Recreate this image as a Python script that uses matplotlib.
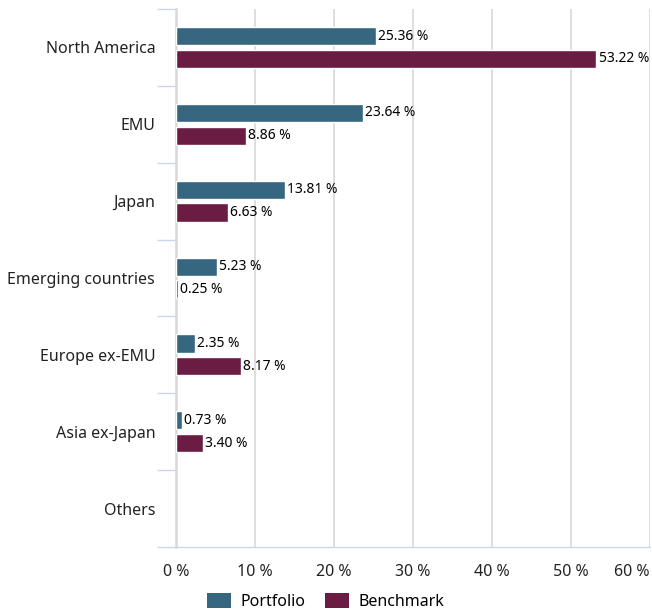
import numpy as np
import matplotlib
matplotlib.use("Agg")
import matplotlib.pyplot as plt
from matplotlib.patches import Patch

plt.rcParams['font.family'] = ['Noto Sans', 'DejaVu Sans']

# Regional allocation, in percent
regions = ['North America', 'EMU', 'Japan', 'Emerging countries',
           'Europe ex-EMU', 'Asia ex-Japan', 'Others']
portfolio = [25.36, 23.64, 13.81, 5.23, 2.35, 0.73, np.nan]
benchmark = [53.22, 8.86, 6.63, 0.25, 8.17, 3.40, np.nan]
x_ticks = [0, 10, 20, 30, 40, 50, 60]
x_labels = ['0 %', '10 %', '20 %', '30 %', '40 %', '50 %', '60 %']

col_port = '#376780'
col_bench = '#6b1c42'
grid_col = '#d8d8d8'
axis_col = '#ccd6eb'

fig = plt.figure(figsize=(6.52, 6.11), dpi=100)
ax = fig.add_axes([176 / 652, 64 / 611, 474 / 652, 538 / 611])

y = np.arange(len(regions))
h = 0.235
off = 0.148

ax.barh(y - off, portfolio, height=h, color=col_port, edgecolor='white', linewidth=1.0, zorder=3)
ax.barh(y + off, benchmark, height=h, color=col_bench, edgecolor='white', linewidth=1.0, zorder=3)

# value labels
for yy, v in zip(y - off, portfolio):
    if not np.isnan(v):
        ax.annotate(f'{v:.2f} %', (v, yy), xytext=(1.5, 0), textcoords='offset points',
                    va='center', ha='left', fontsize=10, color='black', zorder=4)
for yy, v in zip(y + off, benchmark):
    if not np.isnan(v):
        ax.annotate(f'{v:.2f} %', (v, yy), xytext=(1.5, 0), textcoords='offset points',
                    va='center', ha='left', fontsize=10, color='black', zorder=4)

ax.set_xlim(0, 60)
ax.set_ylim(len(regions) - 0.5, -0.5)

# grid and axes styling
ax.set_xticks(x_ticks)
ax.set_xticklabels(x_labels, fontsize=11.5, color='#222222')
ax.tick_params(axis='x', length=0, pad=12)
ax.get_xticklabels()[-1].set_ha('right')
for t in x_ticks[1:]:
    ax.axvline(t, color=grid_col, linewidth=1.2, zorder=1)

ax.set_yticks(np.arange(len(regions) + 1) - 0.5)
ax.set_yticklabels([])
ax.tick_params(axis='y', which='major', length=14, width=1, color=axis_col)
ax.set_yticks(y, minor=True)
ax.set_yticklabels(regions, minor=True, fontsize=11.5, color='#222222')
ax.tick_params(axis='y', which='minor', length=0, pad=15)

for s in ['top', 'right']:
    ax.spines[s].set_visible(False)
ax.spines['left'].set_color(grid_col)
ax.spines['left'].set_linewidth(1.8)
ax.spines['bottom'].set_color(axis_col)
ax.spines['bottom'].set_linewidth(1)

handles = [Patch(facecolor=col_port, label='Portfolio'),
           Patch(facecolor=col_bench, label='Benchmark')]
fig.legend(handles=handles, loc='lower center', bbox_to_anchor=(0.5, -0.022), ncol=2,
           frameon=False, fontsize=11.5, handlelength=1.5, handleheight=1.1,
           handletextpad=0.6, columnspacing=1.2)

fig.savefig('out.png', dpi=100)
